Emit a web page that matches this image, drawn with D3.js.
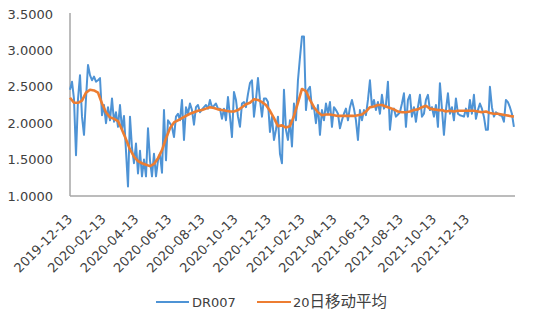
<!DOCTYPE html>
<html>
<head>
<meta charset="utf-8">
<script src="https://cdn.jsdelivr.net/npm/d3@7/dist/d3.min.js"></script>
<style>
  html, body { margin: 0; padding: 0; background: #fff; }
  svg { display: block; }
</style>
</head>
<body>
<svg id="chart" width="541" height="323"></svg>
<script>
// ---------- data ----------
const seriesNames = ["DR007", "20日移动平均"];
const startDate = "2019-12-13";
const endDate = "2022-03-09";
const axisEnd = "2022-03-11";

// DR007, evenly sampled between startDate and endDate
const dr007 = [
  2.46,2.57,2.33,1.56,2.33,2.66,2.09,1.84,2.34,2.80,2.66,2.59,2.64,2.57,2.59,2.62,
  2.11,2.25,2.00,2.22,2.04,2.34,2.02,2.15,1.95,2.25,1.91,2.10,1.62,1.13,2.09,1.66,
  1.45,1.72,1.31,1.62,1.27,1.50,1.27,1.93,1.49,1.27,1.58,1.27,1.49,1.58,1.32,2.18,
  1.49,2.04,2.00,1.95,1.81,2.09,2.13,2.04,2.32,1.77,2.22,2.13,2.27,2.18,1.98,2.22,
  2.25,2.15,2.19,2.22,2.25,2.20,2.32,2.22,2.24,2.27,2.20,2.20,2.06,2.20,2.04,2.36,
  2.09,1.81,2.43,2.32,2.09,1.95,2.27,2.29,2.22,2.40,2.55,2.59,2.09,2.32,2.62,2.32,
  2.09,2.34,2.34,2.29,1.88,2.09,1.77,1.91,2.09,1.58,1.45,2.46,1.91,1.77,2.04,1.68,
  2.27,2.04,2.59,2.90,3.19,3.19,2.18,2.46,2.50,2.20,2.22,2.00,2.25,1.84,2.18,2.04,
  2.27,2.13,2.29,1.95,2.22,2.18,2.13,1.93,2.04,2.13,2.20,2.04,2.22,2.32,2.20,2.04,
  1.77,2.18,2.04,2.18,2.11,2.32,2.59,2.22,2.32,2.18,2.29,2.13,2.39,2.20,2.25,2.57,
  1.91,2.18,2.20,2.09,2.12,2.15,2.27,2.41,1.95,2.32,2.39,2.09,2.22,2.02,2.22,2.39,
  2.09,2.13,2.32,2.39,2.18,2.22,2.09,2.25,1.95,2.55,2.20,1.84,2.18,2.41,2.13,2.22,
  2.04,2.34,2.13,2.11,2.10,2.09,2.20,2.09,2.32,2.13,2.39,2.06,2.18,2.27,2.20,2.09,
  1.91,1.91,2.50,2.22,2.09,2.15,2.13,2.11,2.10,2.02,2.32,2.29,2.22,2.13,1.95
];

// 20-day moving average, evenly sampled between startDate and endDate
const ma20 = [
  2.35,2.28,2.28,2.31,2.42,2.46,2.45,2.42,2.27,2.15,2.08,2.06,2.03,1.91,1.78,1.64,
  1.54,1.48,1.45,1.43,1.41,1.44,1.52,1.63,1.79,1.93,2.01,2.04,2.07,2.10,2.13,2.15,
  2.17,2.18,2.20,2.22,2.21,2.19,2.18,2.17,2.16,2.16,2.18,2.22,2.26,2.28,2.33,2.32,
  2.29,2.25,2.17,2.07,1.96,1.97,1.94,1.96,2.10,2.28,2.47,2.44,2.32,2.22,2.15,2.11,
  2.12,2.12,2.11,2.10,2.10,2.10,2.10,2.10,2.11,2.12,2.16,2.22,2.23,2.25,2.25,2.23,
  2.21,2.19,2.16,2.15,2.15,2.16,2.18,2.19,2.22,2.24,2.20,2.19,2.18,2.18,2.16,2.17,
  2.16,2.17,2.17,2.17,2.17,2.17,2.16,2.15,2.16,2.14,2.13,2.13,2.12,2.11,2.10,2.09
];

const tickLabels = [
  "2019-12-13","2020-02-13","2020-04-13","2020-06-13","2020-08-13","2020-10-13",
  "2020-12-13","2021-02-13","2021-04-13","2021-06-13","2021-08-13","2021-10-13","2021-12-13"
];
const yTicks = [1.0, 1.5, 2.0, 2.5, 3.0, 3.5];
const colors = ["#4e93d5", "#ed7d31"];

// ---------- chart ----------
(function () {
const parse = d3.timeParse("%Y-%m-%d");
const t0 = parse(startDate), t1 = parse(endDate);

function spread(values) {
  const n = values.length;
  const span = t1 - t0;
  return values.map((v, i) => ({ date: new Date(+t0 + span * i / (n - 1)), value: v }));
}
const blueData = spread(dr007);
const orangeData = spread(ma20);

const svg = d3.select("#chart");
const mLeft = 70, mRight = 515, mTop = 14, mBottom = 196;

const x = d3.scaleTime().domain([t0, parse(axisEnd)]).range([mLeft, mRight]);
const y = d3.scaleLinear().domain([1, 3.5]).range([mBottom, mTop]);

const font = "'DejaVu Sans', Verdana, sans-serif";
const textColor = "#404040";

// y axis labels
svg.append("g").selectAll("text").data(yTicks).join("text")
  .attr("x", 53).attr("y", d => y(d)).attr("dy", "0.36em")
  .attr("text-anchor", "end")
  .attr("font-family", font).attr("font-size", 13).attr("fill", textColor)
  .text(d => d3.format(".4f")(d));

// axis lines
svg.append("line").attr("x1", mLeft).attr("x2", mLeft)
  .attr("y1", y(3.5) - 1).attr("y2", mBottom)
  .attr("stroke", "#a6a6a6").attr("stroke-width", 1.5);
svg.append("line").attr("x1", mLeft).attr("x2", mRight)
  .attr("y1", mBottom).attr("y2", mBottom)
  .attr("stroke", "#a6a6a6").attr("stroke-width", 1.5);

// x labels
svg.append("g").selectAll("text").data(tickLabels).join("text")
  .attr("transform", d => `translate(${x(parse(d)) + 3},${220}) rotate(-45)`)
  .attr("text-anchor", "end")
  .attr("font-family", font).attr("font-size", 13).attr("fill", textColor)
  .text(d => d);

// lines
const line = d3.line().x(d => x(d.date)).y(d => y(d.value));
svg.append("path").datum(blueData).attr("d", line)
  .attr("fill", "none").attr("stroke", colors[0]).attr("stroke-width", 2)
  .attr("stroke-linejoin", "round");
svg.append("path").datum(orangeData).attr("d", line)
  .attr("fill", "none").attr("stroke", colors[1]).attr("stroke-width", 2.6)
  .attr("stroke-linejoin", "round");

// legend
const legY = 302;
const leg = svg.append("g");
leg.append("line").attr("x1", 156).attr("x2", 189).attr("y1", legY).attr("y2", legY)
  .attr("stroke", colors[0]).attr("stroke-width", 2);
leg.append("text").attr("x", 192).attr("y", legY).attr("dy", "0.36em")
  .attr("font-family", font).attr("font-size", 13).attr("fill", textColor)
  .text(seriesNames[0]);
leg.append("line").attr("x1", 257).attr("x2", 291).attr("y1", legY).attr("y2", legY)
  .attr("stroke", colors[1]).attr("stroke-width", 2);
const t2 = leg.append("text").attr("x", 293).attr("y", legY).attr("dy", "0.36em")
  .attr("font-family", font).attr("font-size", 13).attr("fill", textColor);
t2.append("tspan").text(seriesNames[1].slice(0, 2));
t2.append("tspan").attr("font-family", "'Noto Sans CJK SC', sans-serif").attr("font-size", 15.5)
  .text(seriesNames[1].slice(2));
})();
</script>
</body>
</html>
